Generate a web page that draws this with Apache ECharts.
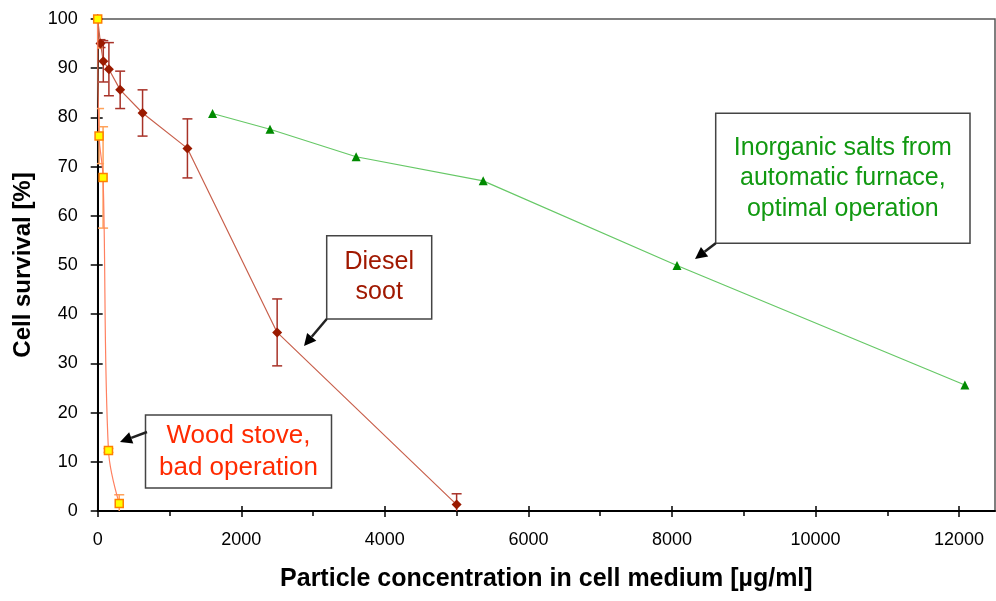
<!DOCTYPE html>
<html>
<head>
<meta charset="utf-8">
<script src="https://cdn.jsdelivr.net/npm/echarts@6/dist/echarts.min.js"></script>
<style>
html,body{margin:0;padding:0;background:#fff;}
#chart{width:996px;height:601px;}
</style>
</head>
<body>
<div id="chart"></div>
<script>
// ---- data ----
const xTicks = [0, 2000, 4000, 6000, 8000, 10000, 12000];
const yTicks = [0, 10, 20, 30, 40, 50, 60, 70, 80, 90, 100];

const dieselX   = [0, 39, 78, 156, 313, 625, 1250, 2500, 5000];
const dieselY   = [100, 95.0, 91.4, 89.8, 85.6, 80.9, 73.7, 36.3, 1.3];
const dieselErr = [5.1, 0.8, 4.2, 5.4, 3.8, 4.7, 6.0, 6.8, 2.2];

const woodX   = [0, 19, 75, 150, 300];
const woodY   = [100, 76.2, 67.8, 12.3, 1.5];
const woodErr = [5.9, 5.6, 10.3, 0.4, 1.8];

const saltX = [1600, 2400, 3600, 5370, 8070, 12080];
const saltY = [80.8, 77.6, 72.0, 67.1, 49.9, 25.6];

const xTitle = 'Particle concentration in cell medium [µg/ml]';
const yTitle = 'Cell survival [%]';

// ---- build ----
const FONT = 'Liberation Sans, Arial, sans-serif';
const zip = (xs, ys, es) => xs.map((x, i) => es ? [x, ys[i], es[i]] : [x, ys[i]]);

function errRender(color) {
  return function (params, api) {
    const x = api.value(0), y = api.value(1), e = api.value(2);
    const top = api.coord([x, y + e]);
    const bot = api.coord([x, y - e]);
    const w = 5;
    const st = {stroke: color, lineWidth: 1.5};
    return {
      type: 'group',
      children: [
        {type: 'line', shape: {x1: top[0], y1: top[1], x2: bot[0], y2: bot[1]}, style: st},
        {type: 'line', shape: {x1: top[0] - w, y1: top[1], x2: top[0] + w, y2: top[1]}, style: st},
        {type: 'line', shape: {x1: bot[0] - w, y1: bot[1], x2: bot[0] + w, y2: bot[1]}, style: st}
      ]
    };
  };
}

function arrow(x1, y1, x2, y2) {
  const dx = x2 - x1, dy = y2 - y1, L = Math.sqrt(dx * dx + dy * dy);
  const ux = dx / L, uy = dy / L;
  const hl = 12, hw = 6;
  const bx = x2 - ux * hl, by = y2 - uy * hl;
  return [
    {type: 'line', shape: {x1: x1, y1: y1, x2: bx, y2: by}, style: {stroke: '#222', lineWidth: 2.5}, z: 100},
    {type: 'polygon', shape: {points: [[x2, y2], [bx - uy * hw, by + ux * hw], [bx + uy * hw, by - ux * hw]]},
      style: {fill: '#000'}, z: 100}
  ];
}

function box(x, y, w, h, lines, color, size) {
  return {
    type: 'group', z: 100,
    children: [
      {type: 'rect', shape: {x: x, y: y, width: w, height: h}, style: {fill: '#fff', stroke: '#444', lineWidth: 1.5}},
      {type: 'text', x: x + w / 2, y: y + h / 2,
        style: {text: lines.join('\n'), fill: color, font: size + 'px ' + FONT,
          align: 'center', verticalAlign: 'middle', lineHeight: size * 1.22}}
    ]
  };
}

const axisLabelStyle = {color: '#000', fontSize: 18, fontFamily: FONT, formatter: v => String(v)};
const grid = {left: 97.7, top: 19, right: 1, bottom: 90, show: true, borderColor: '#555', borderWidth: 1.5};

const chart = echarts.init(document.getElementById('chart'));
chart.setOption({
  animation: false,
  backgroundColor: '#fff',
  grid: grid,
  xAxis: [{
    type: 'value', min: 0, max: 12500, interval: 2000,
    axisLine: {show: true, lineStyle: {color: '#000', width: 2}},
    axisTick: {show: true, inside: false, length: 6, customValues: xTicks, lineStyle: {color: '#000', width: 1.5}},
    minorTick: {show: true, splitNumber: 2, length: 5, lineStyle: {color: '#000', width: 1.5}},
    axisLabel: {margin: 20, customValues: xTicks, ...axisLabelStyle},
    splitLine: {show: false},
    name: xTitle, nameLocation: 'middle', nameGap: 56,
    nameTextStyle: {fontSize: 25, fontWeight: 'bold', color: '#000', fontFamily: FONT}
  }, {
    type: 'value', min: 0, max: 12500, interval: 2000, position: 'bottom',
    axisLine: {show: false},
    axisTick: {show: true, inside: true, length: 5, customValues: xTicks, lineStyle: {color: '#000', width: 1.5}},
    axisLabel: {show: false}, splitLine: {show: false}
  }],
  yAxis: [{
    type: 'value', min: 0, max: 100, interval: 10,
    axisLine: {show: true, lineStyle: {color: '#000', width: 2}},
    axisTick: {show: true, inside: false, length: 7, customValues: yTicks, lineStyle: {color: '#000', width: 1.5}},
    axisLabel: {margin: 20, customValues: yTicks, ...axisLabelStyle},
    splitLine: {show: false},
    name: yTitle, nameLocation: 'middle', nameGap: 62,
    nameTextStyle: {fontSize: 24, fontWeight: 'bold', color: '#000', fontFamily: FONT}
  }, {
    type: 'value', min: 0, max: 100, interval: 10, position: 'left',
    axisLine: {show: false},
    axisTick: {show: true, inside: true, length: 5, customValues: yTicks, lineStyle: {color: '#000', width: 1.5}},
    axisLabel: {show: false}, splitLine: {show: false}
  }],
  series: [
    {
      name: 'salts', type: 'line', data: zip(saltX, saltY), z: 3,
      symbol: 'triangle', symbolSize: 9,
      itemStyle: {color: '#008a00'},
      lineStyle: {color: '#66c866', width: 1.2}
    },
    {
      name: 'diesel err', type: 'custom', data: zip(dieselX, dieselY, dieselErr), z: 2, clip: true,
      renderItem: errRender('#a83228')
    },
    {
      name: 'diesel', type: 'line', data: zip(dieselX, dieselY), z: 4,
      symbol: 'diamond', symbolSize: 10,
      itemStyle: {color: '#9a1a00'},
      lineStyle: {color: '#c8604c', width: 1.2}
    },
    {
      name: 'wood err', type: 'custom', data: zip(woodX, woodY, woodErr), z: 2, clip: true,
      renderItem: errRender('#ffa25a')
    },
    {
      name: 'wood', type: 'line', data: zip(woodX, woodY), z: 5, smooth: 0.35,
      symbol: 'rect', symbolSize: 8,
      itemStyle: {color: '#ffff00', borderColor: '#ff8000', borderWidth: 1.5},
      lineStyle: {color: '#ff8060', width: 1.2}
    }
  ],
  graphic: [
    box(145.5, 415, 186, 73, ['Wood stove,', 'bad operation'], '#ff2a00', 26),
    ...arrow(147, 432, 120, 442),
    box(326.7, 235.7, 105, 83.3, ['Diesel', 'soot'], '#a01800', 25),
    ...arrow(326.7, 319, 304, 346),
    box(715.7, 113.3, 254.3, 130, ['Inorganic salts from', 'automatic furnace,', 'optimal operation'], '#119911', 25),
    ...arrow(715.7, 243.3, 695, 259)
  ]
});
</script>
</body>
</html>
